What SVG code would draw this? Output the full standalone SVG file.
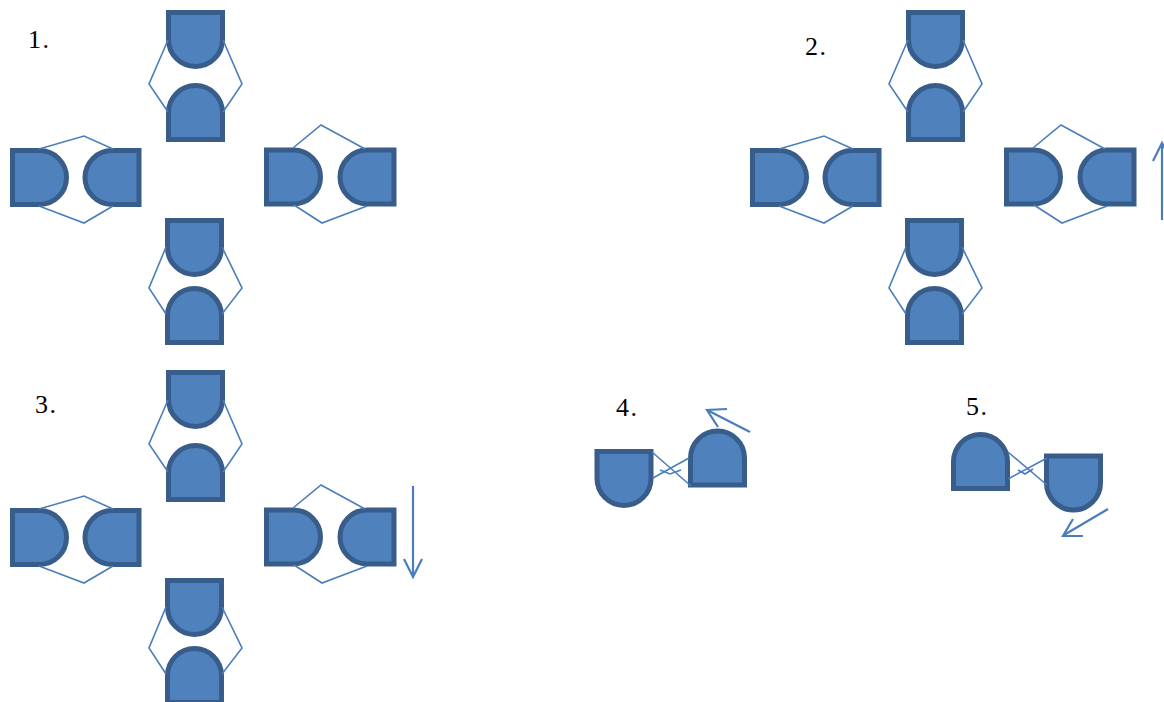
<svg xmlns="http://www.w3.org/2000/svg" xmlns:xlink="http://www.w3.org/1999/xlink" width="1164" height="702" viewBox="0 0 1164 702">
<style>
.s{fill:#4f81bd;stroke:#385d8a;stroke-width:5}
.c{fill:none;stroke:#4a7ebb;stroke-width:1.6}
.a{fill:none;stroke:#4a7ebb;stroke-width:2.2}
.t{font-family:"Liberation Serif","Times New Roman",serif;font-size:26px;letter-spacing:1.5px;fill:#000}
</style>
<defs>
<path id="d" class="s" d="M-27,-27 H27 V0 A27,27 0 0 1 -27,0 Z"/>
<g id="cluster">
<use xlink:href="#d" transform="translate(195.5,39.5)"/>
<use xlink:href="#d" transform="translate(195.5,112.5) rotate(180)"/>
<use xlink:href="#d" transform="translate(39.5,177.5) rotate(-90)"/>
<use xlink:href="#d" transform="translate(112,177.5) rotate(90)"/>
<use xlink:href="#d" transform="translate(293.5,177) rotate(-90)"/>
<use xlink:href="#d" transform="translate(367,177) rotate(90)"/>
<use xlink:href="#d" transform="translate(194.5,247.5)"/>
<use xlink:href="#d" transform="translate(194.5,315.5) rotate(180)"/>
<polyline class="c" points="168,40 149,84 168,112"/>
<polyline class="c" points="223,40 242,84 223,112"/>
<polyline class="c" points="39,149 84,136 113,149"/>
<polyline class="c" points="39,206 84,223 113,206"/>
<polyline class="c" points="293,148 321,125 365,149"/>
<polyline class="c" points="294,205 322,223 367,206"/>
<polyline class="c" points="166,247 149,288 166,314"/>
<polyline class="c" points="222,247 242,288 222,314"/>
</g>
</defs>
<g id="node-cluster1"><use xlink:href="#cluster"/></g>
<g id="node-cluster2"><use xlink:href="#cluster" transform="translate(740,0)"/></g>
<g id="node-cluster3"><use xlink:href="#cluster" transform="translate(0,360)"/></g>
<g id="node-pair4">
<use xlink:href="#d" transform="translate(624,478.5)"/>
<use xlink:href="#d" transform="translate(717.5,458) rotate(180)"/>
</g>
<g id="node-pair5">
<use xlink:href="#d" transform="translate(980.5,461.5) rotate(180)"/>
<use xlink:href="#d" transform="translate(1073.5,483)"/>
</g>
<g id="connectors">
<line class="c" x1="652" y1="452" x2="691" y2="486"/>
<line class="c" x1="653" y1="478" x2="689" y2="458"/>
<polyline class="c" points="660,470 670,474 681,470"/>
<line class="c" x1="1008" y1="452" x2="1047" y2="485"/>
<line class="c" x1="1008" y1="479" x2="1047" y2="458"/>
<polyline class="c" points="1018,470 1025,474 1033,469"/>
</g>
<g id="arrows">
<line class="a" x1="1162" y1="220" x2="1162" y2="143"/>
<polyline class="a" points="1153,161 1162,143 1171,161"/>
<line class="a" x1="413" y1="486" x2="413" y2="576"/>
<polyline class="a" points="404,559 413,577 422,559"/>
<line class="a" x1="750" y1="432" x2="707" y2="410"/>
<polyline class="a" points="727,409 707,410 718,427"/>
<line class="a" x1="1108" y1="509" x2="1064" y2="535"/>
<polyline class="a" points="1073,519 1063,536 1083,536"/>
</g>
<g id="labels">
<text class="t" x="28" y="48">1.</text>
<text class="t" x="805" y="55">2.</text>
<text class="t" x="35" y="413">3.</text>
<text class="t" x="616" y="416">4.</text>
<text class="t" x="966" y="415">5.</text>
</g>
</svg>
